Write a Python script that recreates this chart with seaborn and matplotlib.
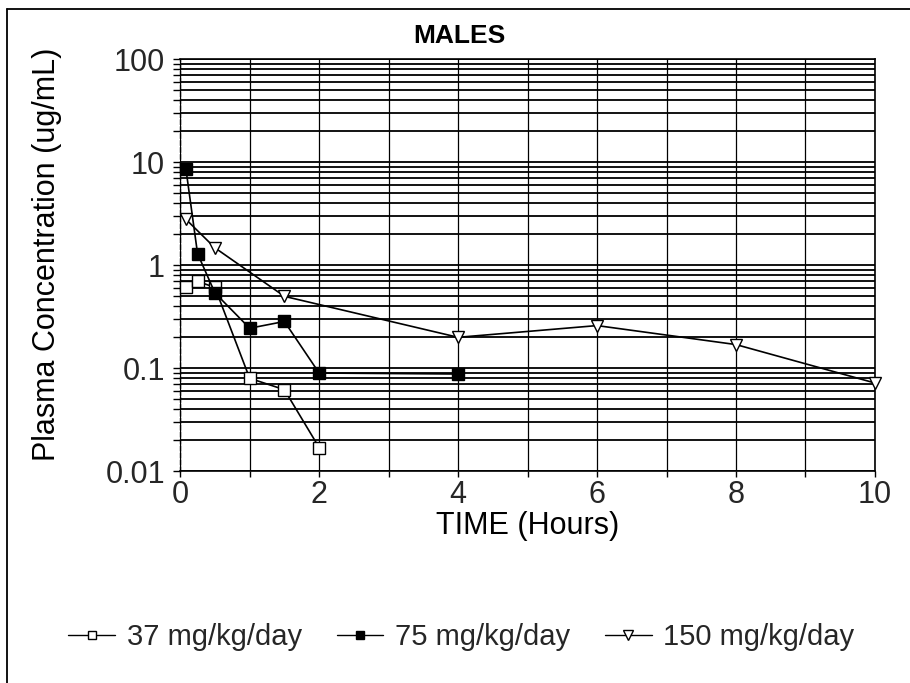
import matplotlib
matplotlib.use("Agg")
import matplotlib.pyplot as plt
from matplotlib.lines import Line2D
from matplotlib.ticker import FixedLocator, FixedFormatter, NullFormatter
import numpy as np
import pandas as pd
import seaborn as sns

# Plasma concentration (ug/mL) versus time (hours), males, three dose groups
time_37 = [0.083, 0.25, 0.5, 1.0, 1.5, 2.0]
conc_37 = [0.62, 0.70, 0.61, 0.080, 0.062, 0.017]

time_75 = [0.083, 0.25, 0.5, 1.0, 1.5, 2.0, 4.0]
conc_75 = [8.6, 1.30, 0.54, 0.245, 0.285, 0.090, 0.088]

time_150 = [0.083, 0.5, 1.5, 4.0, 6.0, 8.0, 10.0]
conc_150 = [2.8, 1.48, 0.50, 0.20, 0.26, 0.17, 0.072]

dose_labels = ["37 mg/kg/day", "75 mg/kg/day", "150 mg/kg/day"]
x_ticks = [0, 2, 4, 6, 8, 10]
x_tick_labels = ["0", "2", "4", "6", "8", "10"]
y_ticks = [0.01, 0.1, 1, 10, 100]
y_tick_labels = ["0.01", "0.1", "1", "10", "100"]

sns.set_theme(style="white")
plt.rcParams["font.family"] = ["Liberation Sans", "DejaVu Sans"]

fig = plt.figure(figsize=(9.1, 6.83), dpi=100)
ax = fig.add_axes([0.198, 0.310, 0.7635, 0.603])

series = [
    (time_37, conc_37, dose_labels[0], "s", "white", 8),
    (time_75, conc_75, dose_labels[1], "s", "black", 8),
    (time_150, conc_150, dose_labels[2], "v", "white", 9),
]
for t, c, lab, mk, face, ms in series:
    df = pd.DataFrame({"time": t, "conc": c})
    sns.lineplot(data=df, x="time", y="conc", ax=ax, color="black",
                 linewidth=1.2, marker=mk, markersize=ms,
                 markerfacecolor=face, markeredgecolor="black",
                 markeredgewidth=1.0, sort=False, estimator=None,
                 label=lab, zorder=3, clip_on=False)

ax.set_yscale("log")
ax.set_ylim(0.01, 100)
ax.set_xlim(0, 10)

# grid: every hour vertically, every log step horizontally
ax.xaxis.set_major_locator(FixedLocator(x_ticks))
ax.xaxis.set_major_formatter(FixedFormatter(x_tick_labels))
ax.xaxis.set_minor_locator(FixedLocator(np.arange(0, 11, 1)))
ax.yaxis.set_major_locator(FixedLocator(y_ticks))
ax.yaxis.set_major_formatter(FixedFormatter(y_tick_labels))
minor_y = [m * 10.0 ** e for e in range(-2, 2) for m in range(2, 10)]
ax.yaxis.set_minor_locator(FixedLocator(minor_y))
ax.yaxis.set_minor_formatter(NullFormatter())

ax.grid(True, which="both", axis="y", color="black", linewidth=1.3)
ax.grid(True, which="both", axis="x", color="black", linewidth=0.9)
ax.set_axisbelow(True)

ax.tick_params(axis="both", which="both", direction="out", color="black",
               length=5, width=1.0, labelsize=22, pad=6,
               left=True, bottom=True)
ax.tick_params(axis="x", which="both", length=4, pad=2)

for side in ["top", "right", "bottom"]:
    ax.spines[side].set_visible(True)
    ax.spines[side].set_color("black")
    ax.spines[side].set_linewidth(1.2)
ax.spines["left"].set_color("black")
ax.spines["left"].set_linewidth(1.0)
ax.spines["left"].set_linestyle((0, (3, 2)))

ax.set_xlabel("TIME (Hours)", fontsize=22, labelpad=1, color="black")
ax.set_ylabel("")
fig.text(0.052, 0.628, "Plasma Concentration (ug/mL)", rotation=90,
         ha="center", va="center", fontsize=22, color="black")
fig.text(0.505, 0.947, "MALES", ha="center", va="center",
         fontsize=19, fontweight="bold", color="black")

ax.legend_.remove()
handles = [
    Line2D([], [], color="black", lw=1.0, marker="s", markersize=6,
           markerfacecolor="white", markeredgecolor="black"),
    Line2D([], [], color="black", lw=1.0, marker="s", markersize=6,
           markerfacecolor="black", markeredgecolor="black"),
    Line2D([], [], color="black", lw=1.0, marker="v", markersize=7,
           markerfacecolor="white", markeredgecolor="black"),
]
fig.legend(handles, dose_labels, loc="center", bbox_to_anchor=(0.507, 0.067),
           ncol=3, frameon=False, fontsize=21, handlelength=1.6,
           handletextpad=0.4, columnspacing=1.2)

# outer border of the chart area
fig.add_artist(Line2D([0.008, 0.008], [0.0, 0.987], transform=fig.transFigure,
                      color="black", lw=1.3))
fig.add_artist(Line2D([0.008, 1.0], [0.987, 0.987], transform=fig.transFigure,
                      color="black", lw=1.3))

fig.savefig("out.png", dpi=100, facecolor="white")
